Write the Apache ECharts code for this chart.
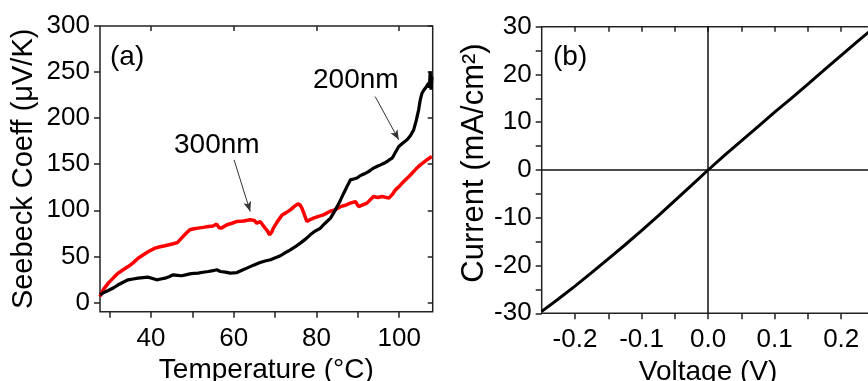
<!DOCTYPE html>
<html>
<head>
<meta charset="utf-8">
<script src="https://cdn.jsdelivr.net/npm/echarts@6/dist/echarts.min.js"></script>
<style>
  html, body { margin: 0; padding: 0; background: #fff; }
  #chart { width: 868px; height: 381px; }
</style>
</head>
<body>
<div id="chart"></div>
<script>
// panel (a): Seebeck coefficient vs temperature
const temp300 = [27.7, 28.5, 29.7, 31, 32.1, 33.3, 34.5, 35.7, 36.9, 38.1, 39.3, 41, 42.2, 43.4, 45.4, 46.4, 47.4, 48.4, 49.4, 50.4, 51.4, 52.6, 53.9, 55, 55.9, 56.5, 57, 58.4, 59.6, 60.8, 62.4, 64, 65, 65.6, 66.4, 67.6, 68.2, 68.7, 69.2, 69.6, 70.6, 71.7, 72.7, 73.7, 74.6, 75.5, 76, 76.5, 77.1, 77.7, 78.5, 79.3, 80.5, 81.7, 83.2, 84.5, 85.8, 87, 88.2, 89.4, 89.8, 90.2, 91.2, 92.2, 93.8, 94.8, 95.9, 97.5, 98.3, 99.1, 100.1, 101.1, 102.1, 103.1, 104.1, 105.1, 105.9, 106.7, 107.9];
const seebeck300 = [6.5, 14, 21, 27, 31.9, 35.5, 39, 43, 48, 51.5, 55, 59, 60.5, 61.5, 63.7, 65, 69.8, 74.5, 78.9, 80, 80.7, 81.5, 82.4, 83, 85, 81, 80.7, 84.3, 86, 87.9, 88.5, 89.7, 89, 86, 87.9, 80.7, 77.5, 73.4, 76.5, 80.7, 88, 95, 97.5, 100.5, 104, 107, 106, 102.4, 95, 87.9, 90, 91.5, 93.5, 95.1, 98.7, 100.5, 104, 105.5, 107.8, 109.5, 108, 104, 106, 107.8, 115, 114, 115, 113.2, 117, 122.2, 126.5, 131.2, 135.5, 140.3, 145, 149.3, 152, 154.8, 158.4];

const temp200 = [27.7, 28.5, 29.7, 31, 32.1, 33.3, 34.5, 35.7, 36.9, 38.1, 39.3, 40.4, 41.4, 42.4, 43.4, 44.4, 45.4, 46.4, 47.4, 48.4, 49.4, 50.4, 51.4, 52.6, 53.9, 55, 55.9, 56.8, 58, 59.2, 60.8, 62, 63.2, 64.8, 66.4, 67.6, 68.9, 70.1, 71.3, 72.5, 73.7, 74.9, 76.1, 77.3, 78.5, 79.7, 80.9, 82.1, 83.4, 84.2, 85, 85.8, 86.6, 87.4, 88.2, 89, 89.8, 90.4, 91, 91.8, 92.6, 93.2, 93.8, 94.6, 95.5, 96.3, 97.1, 97.7, 98.3, 99.1, 99.9, 100.9, 101.9, 102.7, 103.5, 104.1, 104.7, 105.1, 105.5, 105.9, 106.3, 106.7, 107.1, 107.3, 107.5, 107.7, 107.9];
const seebeck200 = [8.3, 10.5, 13, 16, 19.2, 22, 24.6, 25.5, 26.4, 27, 27.5, 26, 24.6, 25.5, 26.4, 28, 30, 29.5, 29, 30, 31, 31.5, 31.9, 32.8, 33.6, 34.5, 35.5, 33.6, 33, 31.9, 32.5, 35, 37.3, 40.5, 43.4, 45, 46.3, 48.5, 50.7, 54, 57.2, 60.5, 64.4, 68.5, 73.4, 77.5, 80.5, 86, 91.5, 97.5, 104, 111, 118.6, 126, 133, 134, 135, 137, 138.5, 140, 142, 144, 145.8, 147.5, 149.3, 151, 153, 155, 156.6, 163, 169.2, 173, 176.5, 181, 187.3, 197, 209, 220, 227, 230, 232.5, 235, 238, 233, 250.5, 231, 245];

// panel (b): current density vs voltage
const voltage = [-0.25, -0.225, -0.2, -0.175, -0.15, -0.125, -0.1, -0.075, -0.05, -0.025, 0, 0.025, 0.05, 0.075, 0.1, 0.125, 0.15, 0.175, 0.2, 0.225, 0.25];
const current = [-29.6, -27.0, -24.3, -21.5, -18.6, -15.7, -12.7, -9.6, -6.4, -3.2, 0, 3.1, 6.1, 9.1, 12.1, 15.0, 18.0, 21.0, 24.0, 27.0, 29.9];

// ticks and labels
const tempTicks = [30, 40, 50, 60, 70, 80, 90, 100];
const tempLabels = [40, 60, 80, 100];
const seebeckLabels = [0, 50, 100, 150, 200, 250, 300];
const voltTicks = [-0.2, -0.15, -0.1, -0.05, 0, 0.05, 0.1, 0.15, 0.2];
const voltLabels = [-0.2, -0.1, 0, 0.1, 0.2];
const currentTicks = [-30, -25, -20, -15, -10, -5, 0, 5, 10, 15, 20, 25, 30];
const currentLabels = [-30, -20, -10, 0, 10, 20, 30];

const FONT = "'Liberation Sans', Arial, sans-serif";
const INK = '#222';

function mainAxis(gridIndex, position, range, ticks, labels, name, nameGap, nameSize, fmt, namePad) {
  return {
    type: 'value', gridIndex, position,
    min: range[0], max: range[1],
    axisLine: { show: false, onZero: false },
    axisTick: { show: true, inside: false, length: 6, customValues: ticks, lineStyle: { color: INK, width: 1.5 } },
    axisLabel: {
      customValues: labels, color: '#000', fontFamily: FONT, fontSize: 26,
      margin: position === 'bottom' ? 14 : 10,
      formatter: fmt || (v => String(v))
    },
    splitLine: { show: false },
    name, nameLocation: 'middle', nameGap,
    nameRotate: position === 'left' ? 90 : 0,
    nameTextStyle: { color: '#000', fontFamily: FONT, fontSize: nameSize, padding: namePad || 0 }
  };
}

function mirrorAxis(gridIndex, position, range, ticks) {
  return {
    type: 'value', gridIndex, position,
    min: range[0], max: range[1],
    axisLine: { show: false, onZero: false },
    axisTick: { show: true, inside: true, length: 5, customValues: ticks, lineStyle: { color: INK, width: 1.5 } },
    axisLabel: { show: false },
    splitLine: { show: false }
  };
}

const gridBase = {
  show: true, borderColor: INK, borderWidth: 1.5, backgroundColor: 'transparent',
  containLabel: false, outerBoundsMode: 'none'
};

const chart = echarts.init(document.getElementById('chart'));

chart.setOption({
  animation: false,
  backgroundColor: '#fff',
  grid: [
    Object.assign({ left: 100, top: 26, width: 332.7, height: 285.7 }, gridBase),
    Object.assign({ left: 541.7, top: 26.7, width: 332.8, height: 286.6 }, gridBase)
  ],
  xAxis: [
    mainAxis(0, 'bottom', [27.7, 108.1], tempTicks, tempLabels, 'Temperature (°C)', 43, 28),
    mirrorAxis(0, 'top', [27.7, 108.1], tempLabels),
    mainAxis(1, 'bottom', [-0.25, 0.25], voltTicks, voltLabels, 'Voltage (V)', 38, 28, v => v.toFixed(1)),
    mirrorAxis(1, 'top', [-0.25, 0.25], voltTicks)
  ],
  yAxis: [
    mainAxis(0, 'left', [-10, 300], seebeckLabels, seebeckLabels, 'Seebeck Coeff (μV/K)', 62, 29),
    mirrorAxis(0, 'right', [-10, 300], seebeckLabels),
    mainAxis(1, 'left', [-30, 30], currentTicks, currentLabels, 'Current (mA/cm²)', 52, 31, null, [0, 0, 0, 14]),
    mirrorAxis(1, 'right', [-30, 30], currentTicks)
  ],
  graphic: [
    { type: 'text', left: 110, top: 43, style: { text: '(a)', font: '28px ' + FONT, fill: '#000' } },
    { type: 'text', left: 553, top: 43, style: { text: '(b)', font: '28px ' + FONT, fill: '#000' } },
    { type: 'text', left: 174, top: 131, style: { text: '300nm', font: '28px ' + FONT, fill: '#000' } },
    { type: 'text', left: 313, top: 66, style: { text: '200nm', font: '28px ' + FONT, fill: '#000' } }
  ],
  series: [
    {
      name: '300nm', type: 'line', xAxisIndex: 0, yAxisIndex: 0,
      data: temp300.map((t, i) => [t, seebeck300[i]]),
      showSymbol: false, lineStyle: { color: '#ff0000', width: 3.5 }, z: 3
    },
    {
      name: '200nm', type: 'line', xAxisIndex: 0, yAxisIndex: 0,
      data: temp200.map((t, i) => [t, seebeck200[i]]),
      showSymbol: false, lineStyle: { color: '#000', width: 3.2 }, z: 4,
      markLine: {
        silent: true, symbol: ['none', 'arrow'], symbolSize: [6, 10],
        label: { show: false },
        lineStyle: { color: '#333', width: 1, type: 'solid' },
        data: [
          [{ coord: [60.1, 154.8] }, { coord: [64, 98.7] }],
          [{ coord: [94.2, 223.4] }, { coord: [99.9, 176.5] }]
        ]
      }
    },
    {
      name: 'IV', type: 'line', xAxisIndex: 2, yAxisIndex: 2,
      data: voltage.map((v, i) => [v, current[i]]),
      showSymbol: false, lineStyle: { color: '#000', width: 3 }, z: 4,
      markLine: {
        silent: true, symbol: ['none', 'none'],
        label: { show: false },
        lineStyle: { color: '#111', width: 1.5, type: 'solid' },
        data: [{ xAxis: 0 }, { yAxis: 0 }]
      }
    }
  ]
});
</script>
</body>
</html>
